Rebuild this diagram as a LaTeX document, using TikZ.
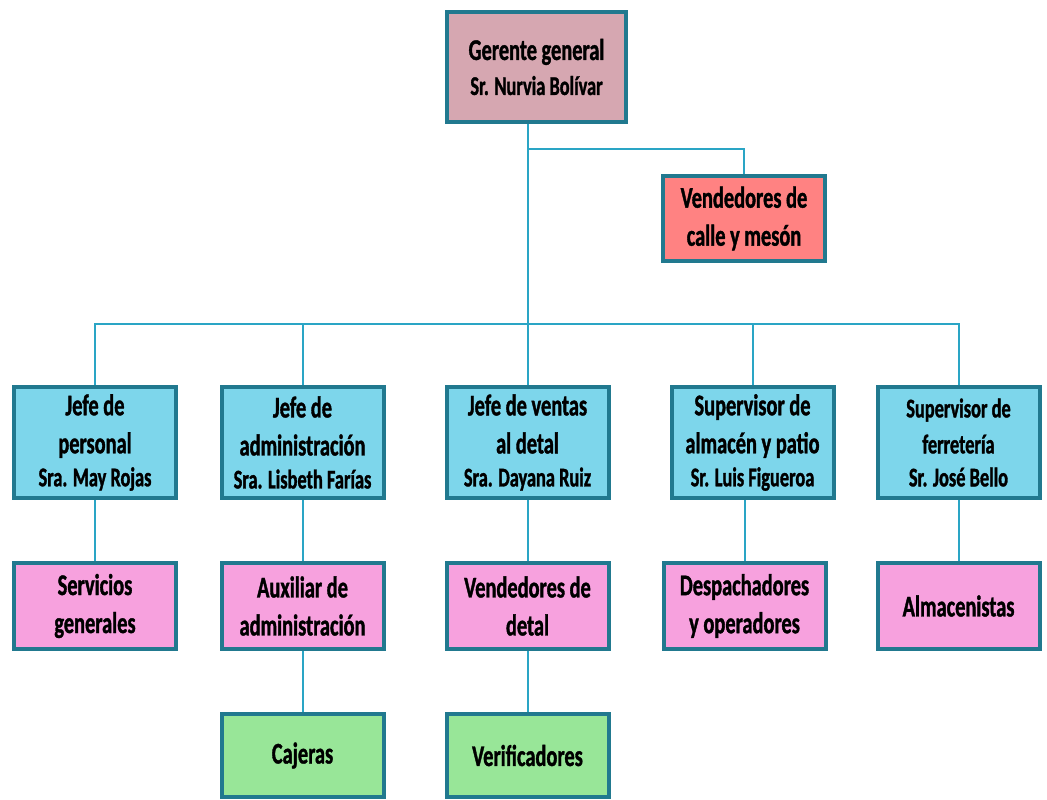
\documentclass[tikz,border=0pt]{standalone}
\usepackage{fontspec}
\setmainfont{Carlito}[FakeStretch=0.68, FakeBold=1.2]
\usetikzlibrary{positioning, calc}

\definecolor{borde}{HTML}{21798F}
\definecolor{enlace}{HTML}{2AA5C5}
\definecolor{malva}{HTML}{D6A7B1}
\definecolor{salmon}{HTML}{FF8282}
\definecolor{celeste}{HTML}{7DD6EB}
\definecolor{rosa}{HTML}{F7A1DE}
\definecolor{verde}{HTML}{98E698}
\newcommand{\nombre}[1]{{\fontsize{13.5}{15}\selectfont #1}}

\begin{document}
\begin{tikzpicture}[
  x=0.5pt, y=-0.5pt,
  font=\fontsize{15}{19}\selectfont\bfseries,
  node distance=30.5pt
]
% -------------------- Styles --------------------
\tikzset{
  caja/.style={
    draw=borde, line width=2pt,
    align=center, inner sep=1pt,
    minimum width=81pt, minimum height=43pt
  },
  gerente/.style={caja, fill=malva, minimum width=89.5pt, minimum height=55pt},
  calle/.style={caja, fill=salmon, minimum height=42.5pt},
  jefe/.style={caja, fill=celeste, minimum height=55.5pt},
  area/.style={caja, fill=rosa},
  apoyo/.style={caja, fill=verde, minimum height=41.5pt},
  link/.style={draw=enlace, line width=1pt}
}
\useasboundingbox (0,0) rectangle (1047,799);

% -------------------- Top --------------------
\node[gerente] (gg) at (536.5,67) {Gerente general\\[-1.5pt]\nombre{Sr. Nurvia Bolívar}};
\node[calle] (vc) at (744,218.5) {Vendedores de\\calle y mesón};

% -------------------- Jefes --------------------
\node[jefe] (jp) at (95,442.5) {Jefe de\\personal\\[-2.5pt]\nombre{Sra. May Rojas}};
\node[jefe] (ja) at (302.5,442.5) {Jefe de\\administración\\[-2.5pt]\nombre{Sra. Lisbeth Farías}};
\node[jefe] (jv) at (527.5,442.5) {Jefe de ventas\\al detal\\[-2.5pt]\nombre{Sra. Dayana Ruiz}};
\node[jefe] (sa) at (752.5,442.5) {Supervisor de\\almacén y patio\\[-2.5pt]\nombre{Sr. Luis Figueroa}};
\node[jefe] (sf) at (958.5,442.5) {\nombre{Supervisor de}\\[-1pt]\nombre{ferretería}\\[-2.5pt]\nombre{Sr. José Bello}};

% -------------------- Areas --------------------
\node[area, below=of jp] (sg) {Servicios\\generales};
\node[area, below=of ja] (aa) {Auxiliar de\\administración};
\node[area, below=of jv] (vd) {Vendedores de\\detal};
\node[area, below=of sa, xshift=-4pt] (da) {Despachadores\\y operadores};
\node[area, below=of sf] (al) {Almacenistas};

\node[apoyo, below=of aa] (cj) {Cajeras};
\node[apoyo, below=of vd] (vf) {Verificadores};

% -------------------- Connectors --------------------
\coordinate (rama) at (0,149);
\coordinate (bus) at (0,324);
\draw[link] (gg.south -| jv.north) -- (jv.north);
\draw[link] (rama -| jv.north) -| (vc.north);
\draw[link] (jp.north) |- (bus -| sf.north) -- (sf.north);
\foreach \j in {ja, sa}
  \draw[link] (\j.north) -- (\j.north |- bus);

\foreach \a/\b in {jp/sg, ja/aa, jv/vd, sf/al, aa/cj, vd/vf}
  \draw[link] (\a) -- (\b);
\draw[link] (da.north) -- (da.north |- sa.south);

\end{tikzpicture}
\end{document}
